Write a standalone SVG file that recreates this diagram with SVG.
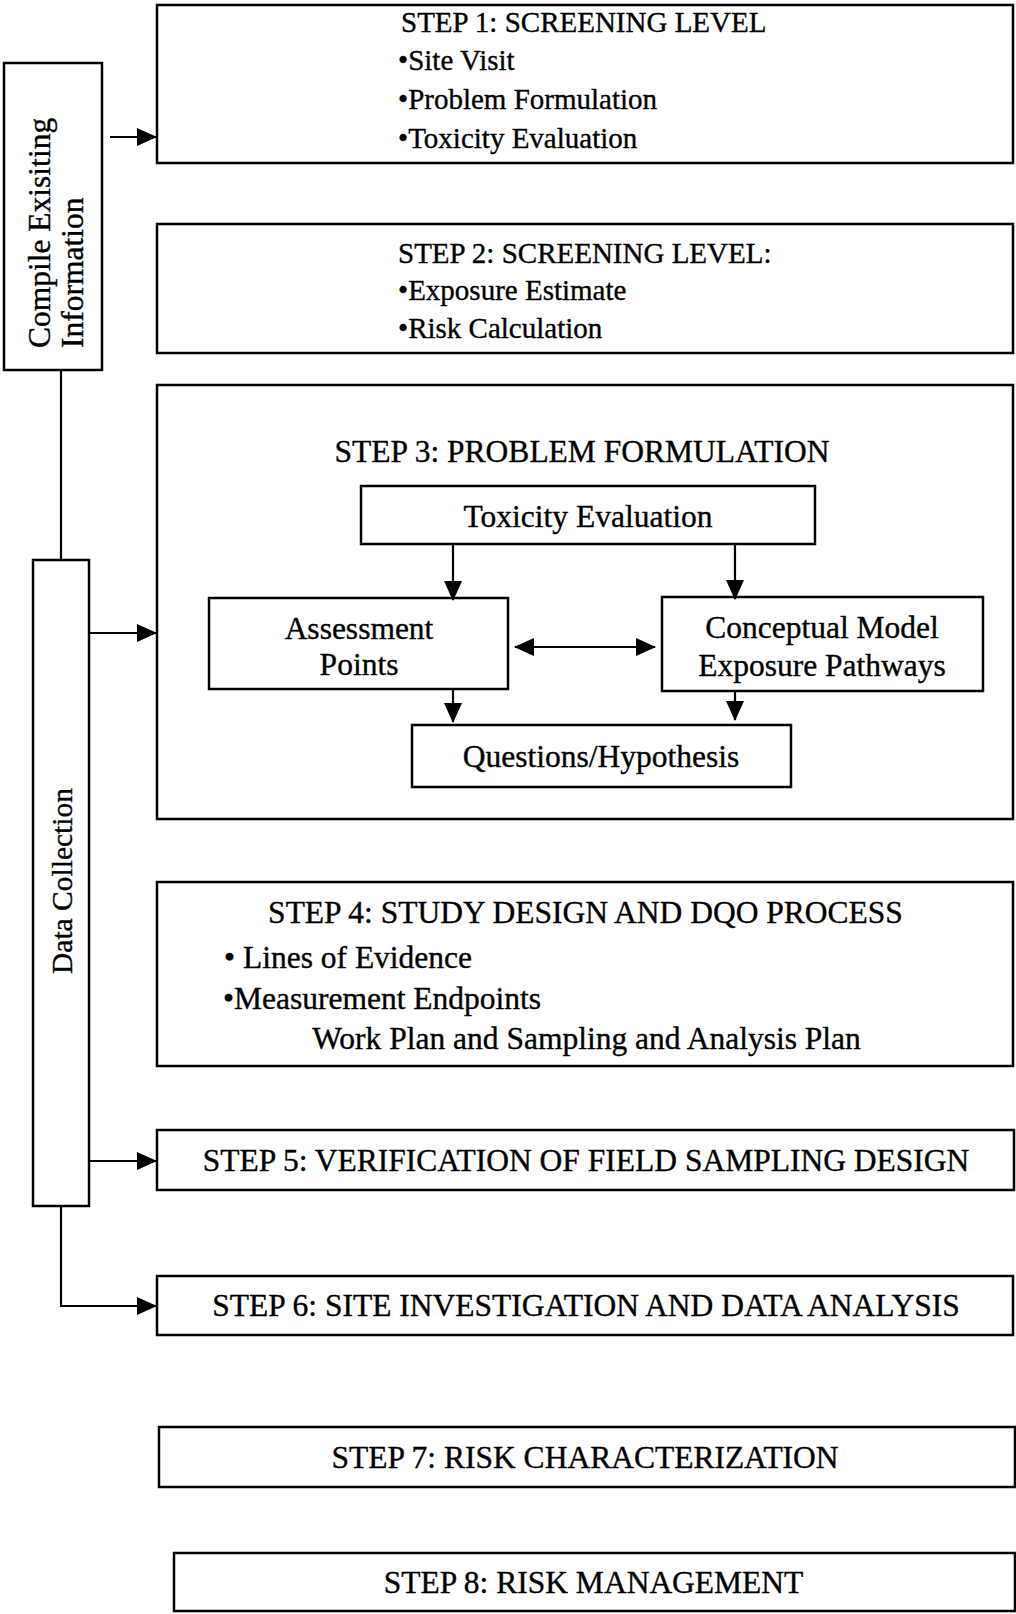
<svg xmlns="http://www.w3.org/2000/svg" width="1016" height="1614" viewBox="0 0 1016 1614">
<style>
.box{fill:#fff;stroke:#000;stroke-width:2.5}
.t{font-family:"Liberation Serif","Times New Roman",serif;font-size:31.5px;fill:#000;stroke:#000;stroke-width:0.35}
.s{font-size:29px}
.m{text-anchor:middle}
.ln{fill:none;stroke:#000;stroke-width:2.2}
</style>
<defs>
<marker id="ah" markerUnits="userSpaceOnUse" markerWidth="20" markerHeight="18" refX="19" refY="9" orient="auto-start-reverse" viewBox="0 0 20 18">
<path d="M0,0 L20,9 L0,18 z" fill="#000"/>
</marker>
</defs>
<rect width="1016" height="1614" fill="#fff"/>

<g id="compile">
<rect class="box" x="4" y="63" width="98" height="307"/>
<text class="t" transform="translate(50,348) rotate(-90)">Compile Exisiting</text>
<text class="t" transform="translate(83,348) rotate(-90)">Information</text>
</g>

<g id="datacollection">
<rect class="box" x="33" y="560" width="56" height="646"/>
<text class="t m" style="font-size:29.5px" transform="translate(72,881) rotate(-90)">Data Collection</text>
</g>

<g id="step1">
<rect class="box" x="157" y="5" width="856" height="158"/>
<text class="t s" x="401" y="32">STEP 1: SCREENING LEVEL</text>
<text class="t s" x="398" y="70">•Site Visit</text>
<text class="t s" x="398" y="109">•Problem Formulation</text>
<text class="t s" x="398" y="148">•Toxicity Evaluation</text>
</g>

<g id="step2">
<rect class="box" x="157" y="224" width="856" height="129"/>
<text class="t s" x="398" y="263">STEP 2: SCREENING LEVEL:</text>
<text class="t s" x="398" y="300">•Exposure Estimate</text>
<text class="t s" x="398" y="338">•Risk Calculation</text>
</g>

<g id="step3">
<rect class="box" x="157" y="385" width="856" height="434"/>
<text class="t m" x="582" y="462">STEP 3: PROBLEM FORMULATION</text>
</g>

<g id="toxicity">
<rect class="box" x="361" y="486" width="454" height="58"/>
<text class="t m" x="588" y="527">Toxicity Evaluation</text>
</g>

<g id="assessment">
<rect class="box" x="209" y="598" width="299" height="91"/>
<text class="t m" x="359" y="639">Assessment</text>
<text class="t m" x="359" y="675">Points</text>
</g>

<g id="conceptual">
<rect class="box" x="662" y="597" width="321" height="94"/>
<text class="t m" x="822" y="638">Conceptual Model</text>
<text class="t m" x="822" y="676">Exposure Pathways</text>
</g>

<g id="questions">
<rect class="box" x="412" y="725" width="379" height="62"/>
<text class="t m" x="601" y="767">Questions/Hypothesis</text>
</g>

<g id="step4">
<rect class="box" x="157" y="882" width="856" height="184"/>
<text class="t m" x="585.5" y="923">STEP 4: STUDY DESIGN AND DQO PROCESS</text>
<text class="t" x="224" y="968">• Lines of Evidence</text>
<text class="t" x="223" y="1009">•Measurement Endpoints</text>
<text class="t m" x="586.5" y="1049">Work Plan and Sampling and Analysis Plan</text>
</g>

<g id="step5">
<rect class="box" x="157" y="1130" width="857" height="60"/>
<text class="t m" x="586" y="1171">STEP 5: VERIFICATION OF FIELD SAMPLING DESIGN</text>
</g>

<g id="step6">
<rect class="box" x="157" y="1276" width="856" height="59"/>
<text class="t m" x="586" y="1316">STEP 6: SITE INVESTIGATION AND DATA ANALYSIS</text>
</g>

<g id="step7">
<rect class="box" x="159" y="1427" width="856" height="60"/>
<text class="t m" x="585" y="1468">STEP 7: RISK CHARACTERIZATION</text>
</g>

<g id="step8">
<rect class="box" x="174" y="1553" width="841" height="58"/>
<text class="t m" x="593.5" y="1593">STEP 8: RISK MANAGEMENT</text>
</g>

<g id="connectors">
<line class="ln" x1="110" y1="137" x2="156" y2="137" marker-end="url(#ah)"/>
<line class="ln" x1="61" y1="371" x2="61" y2="559"/>
<line class="ln" x1="90" y1="633" x2="156" y2="633" marker-end="url(#ah)"/>
<line class="ln" x1="90" y1="1161" x2="156" y2="1161" marker-end="url(#ah)"/>
<polyline class="ln" points="61,1207 61,1306 156,1306" marker-end="url(#ah)"/>
<line class="ln" x1="453" y1="545" x2="453" y2="600" marker-end="url(#ah)"/>
<line class="ln" x1="735" y1="545" x2="735" y2="599" marker-end="url(#ah)"/>
<line class="ln" x1="453" y1="690" x2="453" y2="722" marker-end="url(#ah)"/>
<line class="ln" x1="735" y1="692" x2="735" y2="720" marker-end="url(#ah)"/>
<line class="ln" x1="515" y1="647" x2="655" y2="647" marker-start="url(#ah)" marker-end="url(#ah)"/>
</g>
</svg>
